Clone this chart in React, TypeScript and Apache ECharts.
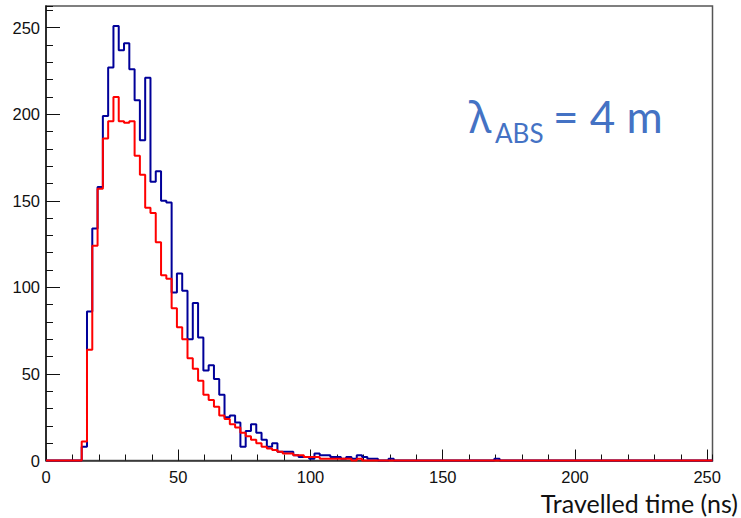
import React, { useEffect, useRef } from "react";
import * as echarts from "echarts";

// Histogram binning (ns)
const BIN_START = 11.5;
const BIN_WIDTH = 2;
const X_MIN = 0;
const X_MAX = 252;
const Y_MIN = 0;
const Y_MAX = 262.5;

const xTickValues = [0, 50, 100, 150, 200, 250];
const yTickValues = [0, 50, 100, 150, 200, 250];

// counts per bin, first bin low edge = BIN_START
const blueCounts = [
  0, 8, 86, 134, 158, 199, 227, 251, 237, 241, 226, 208, 185, 221, 161, 167,
  150, 149, 97, 108, 98, 70, 91, 71, 52, 55, 47, 38, 25, 26, 22, 8,
  17, 21, 16, 12, 8, 10, 5, 5, 5, 3, 2, 2, 1, 4, 3, 3,
  2, 2, 1, 2, 1, 3, 2, 1, 1, 0, 0, 1, 0, 0, 0, 0,
  0, 0, 0, 0, 0, 0, 0, 0, 0, 0, 0, 0, 0, 0, 0, 1,
];
const redCounts = [
  0, 11, 64, 124, 157, 186, 196, 210, 196, 195, 196, 176, 165, 146, 143, 126,
  107, 105, 88, 77, 70, 59, 53, 46, 38, 35, 31, 26, 24, 21, 19, 16,
  14, 12, 10, 8, 7, 6, 5, 4, 4, 3, 3, 2, 2, 2, 1, 1,
  1, 1, 1, 1, 0, 1, 0, 0,
];

const xTitle = "Travelled time (ns)";
const annotationSymbol = "λ";
const annotationSub = "ABS";
const annotationRest = "= 4 m";

function histPoints(counts: number[]): number[][] {
  const pts: number[][] = [[X_MIN, 0]];
  counts.forEach((c, i) => pts.push([BIN_START + i * BIN_WIDTH, c]));
  pts.push([BIN_START + counts.length * BIN_WIDTH, 0]);
  pts.push([X_MAX, 0]);
  return pts;
}

const labelFont = "'Liberation Sans', Arial, Helvetica, sans-serif";
const titleFont = "Lato, 'Open Sans', sans-serif";
const annColor = "#4472c4";

export default function App() {
  const ref = useRef<HTMLDivElement>(null);
  useEffect(() => {
    if (!ref.current) return;
    const chart = echarts.init(ref.current, undefined, { renderer: "svg" });
    const rect = { left: 46, right: 28.5, top: 6, bottom: 57.5 };
    chart.setOption({
      animation: false,
      backgroundColor: "#ffffff",
      grid: [
        { ...rect, show: true, borderColor: "#555", borderWidth: 1.5, containLabel: false },
        { ...rect, show: false, containLabel: false },
      ],
      xAxis: [
        {
          type: "value",
          gridIndex: 0,
          min: X_MIN,
          max: X_MAX,
          interval: 50,
          axisLine: { show: true, onZero: false, lineStyle: { color: "#333", width: 1.5 } },
          axisTick: {
            show: true,
            inside: true,
            length: 11,
            customValues: xTickValues,
            lineStyle: { color: "#111", width: 1 },
          },
          axisLabel: {
            show: true,
            margin: 8,
            fontSize: 16.5,
            color: "#111",
            fontFamily: labelFont,
            customValues: xTickValues,
          },
          splitLine: { show: false },
        },
        {
          type: "value",
          gridIndex: 1,
          min: X_MIN,
          max: X_MAX,
          interval: 10,
          position: "bottom",
          axisLine: { show: false, onZero: false },
          axisTick: { show: true, inside: true, length: 6, lineStyle: { color: "#111", width: 1 } },
          axisLabel: { show: false },
          splitLine: { show: false },
        },
      ],
      yAxis: [
        {
          type: "value",
          gridIndex: 0,
          min: Y_MIN,
          max: Y_MAX,
          interval: 50,
          axisLine: { show: true, onZero: false, lineStyle: { color: "#111", width: 1.5 } },
          axisTick: {
            show: true,
            inside: true,
            length: 14,
            customValues: yTickValues,
            lineStyle: { color: "#111", width: 1 },
          },
          axisLabel: {
            show: true,
            margin: 6,
            fontSize: 16.5,
            color: "#111",
            fontFamily: labelFont,
            customValues: yTickValues,
          },
          splitLine: { show: false },
        },
        {
          type: "value",
          gridIndex: 1,
          min: Y_MIN,
          max: Y_MAX,
          interval: 10,
          position: "left",
          axisLine: { show: false, onZero: false },
          axisTick: { show: true, inside: true, length: 7, lineStyle: { color: "#111", width: 1 } },
          axisLabel: { show: false },
          splitLine: { show: false },
        },
      ],
      series: [
        {
          type: "line",
          xAxisIndex: 0,
          yAxisIndex: 0,
          step: "end",
          data: histPoints(blueCounts),
          showSymbol: false,
          clip: false,
          lineStyle: { color: "#000099", width: 2 },
          z: 2,
        },
        {
          type: "line",
          xAxisIndex: 0,
          yAxisIndex: 0,
          step: "end",
          data: histPoints(redCounts),
          showSymbol: false,
          clip: false,
          lineStyle: { color: "#ff0000", width: 2 },
          z: 3,
        },
      ],
      graphic: [
        {
          type: "text",
          style: {
            text: xTitle,
            x: 738,
            y: 503,
            align: "right",
            verticalAlign: "middle",
            fontSize: 25,
            fontFamily: titleFont,
            fill: "#111",
          },
        },
        {
          type: "text",
          style: {
            text: annotationSymbol,
            x: 469,
            y: 116,
            align: "left",
            verticalAlign: "middle",
            fontSize: 43,
            fontFamily: "'Noto Sans', 'DejaVu Sans', sans-serif",
            fill: annColor,
          },
        },
        {
          type: "text",
          style: {
            text: annotationSub,
            x: 495,
            y: 133,
            align: "left",
            verticalAlign: "middle",
            fontSize: 26,
            fontFamily: titleFont,
            fill: annColor,
          },
        },
        {
          type: "text",
          style: {
            text: annotationRest,
            x: 553,
            y: 116,
            align: "left",
            verticalAlign: "middle",
            fontSize: 44,
            fontFamily: titleFont,
            fill: annColor,
          },
        },
      ],
    });
    return () => chart.dispose();
  }, []);
  return (
    <div
      ref={ref}
      style={{ position: "fixed", left: 0, top: 0, width: 741, height: 518, background: "#fff" }}
    />
  );
}
